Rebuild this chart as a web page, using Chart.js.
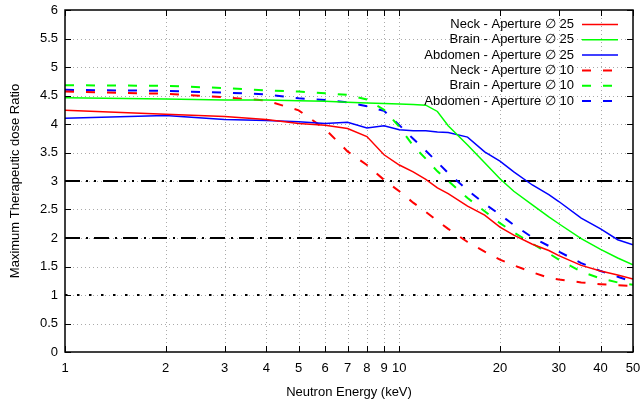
<!DOCTYPE html>
<html>
<head>
<meta charset="utf-8">
<script src="https://cdn.jsdelivr.net/npm/chart.js@4/dist/chart.umd.min.js"></script>
<style>
  html, body { margin: 0; padding: 0; background: #fff; }
  #wrap { width: 643px; height: 404px; }
</style>
</head>
<body>
<div id="wrap"><canvas id="chart" width="643" height="404"></canvas></div>
<script>
// エネルギー (keV) と各シリーズの値
const energy = [1, 2, 3, 4, 5, 6, 7, 8, 9, 10, 11, 12, 13, 14, 16, 18, 20, 22, 25, 28, 30, 35, 40, 45, 50];

const neck25    = [4.24, 4.17, 4.13, 4.08, 4.01, 3.98, 3.92, 3.78, 3.46, 3.28, 3.16, 3.03, 2.88, 2.78, 2.56, 2.40, 2.19, 2.05, 1.89, 1.78, 1.69, 1.52, 1.42, 1.35, 1.28];
const brain25   = [4.46, 4.44, 4.42, 4.42, 4.41, 4.40, 4.38, 4.37, 4.36, 4.35, 4.34, 4.33, 4.22, 3.97, 3.63, 3.32, 3.04, 2.82, 2.58, 2.37, 2.25, 1.99, 1.80, 1.65, 1.53];
const abdomen25 = [4.10, 4.15, 4.08, 4.06, 4.04, 4.01, 4.03, 3.93, 3.97, 3.90, 3.88, 3.88, 3.86, 3.85, 3.77, 3.51, 3.35, 3.16, 2.93, 2.76, 2.64, 2.35, 2.16, 1.97, 1.88];
const neck10    = [4.57, 4.53, 4.47, 4.41, 4.24, 3.91, 3.52, 3.28, 3.02, 2.82, 2.62, 2.46, 2.30, 2.16, 1.93, 1.76, 1.62, 1.52, 1.40, 1.30, 1.27, 1.22, 1.19, 1.17, 1.16];
const brain10   = [4.68, 4.67, 4.63, 4.59, 4.57, 4.54, 4.51, 4.43, 4.25, 3.95, 3.62, 3.39, 3.17, 3.00, 2.70, 2.47, 2.26, 2.10, 1.90, 1.73, 1.62, 1.41, 1.29, 1.22, 1.18];
const abdomen10 = [4.60, 4.58, 4.55, 4.52, 4.45, 4.42, 4.38, 4.31, 4.23, 3.98, 3.74, 3.53, 3.33, 3.14, 2.84, 2.60, 2.41, 2.23, 2.01, 1.86, 1.76, 1.56, 1.42, 1.32, 1.23];

// 基準線 (y = 3, 2, 1)
const refLevels = [3, 2, 1];
const refRange = [1, 50];

const xTicks = [1, 2, 3, 4, 5, 6, 7, 8, 9, 10, 20, 30, 40, 50];
const yTicks = [0, 0.5, 1, 1.5, 2, 2.5, 3, 3.5, 4, 4.5, 5, 5.5, 6];

const FONT = '"Liberation Sans", Arial, sans-serif';
const FSIZE = 13;
const DASH = [9, 12];

function toPoints(ys) {
    return energy.map((e, i) => ({ x: e, y: ys[i] }));
}

function series(label, ys, color, dashed) {
    return {
        label: label,
        data: toPoints(ys),
        borderColor: color,
        borderWidth: dashed ? 2 : 1.5,
        borderDash: dashed ? DASH : [],
        pointRadius: 0,
        tension: 0,
        fill: false
    };
}

const refDash = [[15, 6, 2, 6, 2, 7], [15, 6, 2, 6], [2.5, 9.5]];
const refSets = refLevels.map((lv, i) => ({
    label: 'ref' + lv,
    isRef: true,
    data: refRange.map(x => ({ x: x, y: lv })),
    borderColor: '#000',
    borderWidth: 2,
    borderDash: refDash[i],
    pointRadius: 0,
    fill: false
}));

// スケールの余白をなくしてプロット領域を固定する
function noPad(s) {
    s.paddingLeft = 0;
    s.paddingRight = 0;
    s.paddingTop = 0;
    s.paddingBottom = 0;
}

// グリッド・目盛り・枠・凡例を描くプラグイン
const frame = {
    id: 'frame',
    beforeDatasetsDraw(chart) {
        const { ctx, chartArea: a, scales: { x, y } } = chart;
        ctx.save();
        ctx.strokeStyle = '#aaaaaa';
        ctx.lineWidth = 1;
        ctx.setLineDash([1, 3]);
        xTicks.forEach(v => {
            if (v === 1 || v === 50) return;
            const px = Math.round(x.getPixelForValue(v)) + 0.5;
            ctx.beginPath(); ctx.moveTo(px, a.top); ctx.lineTo(px, a.bottom); ctx.stroke();
        });
        yTicks.forEach(v => {
            if (v === 0 || v === 6) return;
            const py = Math.round(y.getPixelForValue(v)) + 0.5;
            ctx.beginPath(); ctx.moveTo(a.left, py); ctx.lineTo(a.right, py); ctx.stroke();
        });
        ctx.restore();
    },
    afterDatasetsDraw(chart) {
        const { ctx, chartArea: a, scales: { x, y } } = chart;
        ctx.save();
        ctx.strokeStyle = '#000';
        ctx.lineWidth = 1;
        ctx.setLineDash([]);
        const t = 6;
        xTicks.forEach(v => {
            const px = Math.round(x.getPixelForValue(v)) + 0.5;
            ctx.beginPath();
            ctx.moveTo(px, a.bottom); ctx.lineTo(px, a.bottom - t);
            ctx.moveTo(px, a.top); ctx.lineTo(px, a.top + t);
            ctx.stroke();
        });
        yTicks.forEach(v => {
            const py = Math.round(y.getPixelForValue(v)) + 0.5;
            ctx.beginPath();
            ctx.moveTo(a.left, py); ctx.lineTo(a.left + t, py);
            ctx.moveTo(a.right, py); ctx.lineTo(a.right - t, py);
            ctx.stroke();
        });
        ctx.lineWidth = 1.5;
        ctx.strokeRect(a.left, a.top, a.right - a.left, a.bottom - a.top);

        // 凡例
        ctx.font = FSIZE + 'px ' + FONT;
        ctx.textAlign = 'right';
        ctx.textBaseline = 'middle';
        let row = 0;
        chart.data.datasets.forEach(ds => {
            if (ds.isRef) return;
            const ly = 24.5 + row * 15.3;
            ctx.fillStyle = '#000';
            ctx.fillText(ds.label, 574, ly);
            ctx.strokeStyle = ds.borderColor;
            ctx.lineWidth = ds.borderWidth;
            ctx.setLineDash(ds.borderDash);
            ctx.beginPath(); ctx.moveTo(582, ly); ctx.lineTo(618, ly); ctx.stroke();
            row++;
        });
        ctx.restore();
    }
};

new Chart(document.getElementById('chart').getContext('2d'), {
    type: 'line',
    data: {
        datasets: [
            series('Neck - Aperture \u2205 25', neck25, '#ff0000', false),
            series('Brain - Aperture \u2205 25', brain25, '#00ff00', false),
            series('Abdomen - Aperture \u2205 25', abdomen25, '#0000ff', false),
            series('Neck - Aperture \u2205 10', neck10, '#ff0000', true),
            series('Brain - Aperture \u2205 10', brain10, '#00ff00', true),
            series('Abdomen - Aperture \u2205 10', abdomen10, '#0000ff', true)
        ].concat(refSets)
    },
    options: {
        responsive: false,
        animation: false,
        devicePixelRatio: 1,
        layout: { padding: { left: 0, right: 10, top: 10, bottom: 0 } },
        plugins: {
            legend: { display: false },
            tooltip: { enabled: false }
        },
        scales: {
            x: {
                type: 'logarithmic',
                min: 1,
                max: 50,
                grid: { display: false, drawTicks: false },
                border: { display: false },
                afterBuildTicks: s => { s.ticks = xTicks.map(v => ({ value: v })); },
                afterFit: s => { s.height = 52; noPad(s); },
                ticks: {
                    autoSkip: false,
                    maxRotation: 0,
                    padding: 9,
                    color: '#000',
                    font: { family: FONT, size: FSIZE },
                    callback: v => String(v)
                },
                title: {
                    display: true,
                    text: 'Neutron Energy (keV)',
                    color: '#000',
                    font: { family: FONT, size: FSIZE },
                    padding: { top: 4, bottom: 4 }
                }
            },
            y: {
                type: 'linear',
                min: 0,
                max: 6,
                grid: { display: false, drawTicks: false },
                border: { display: false },
                afterBuildTicks: s => { s.ticks = yTicks.map(v => ({ value: v })); },
                afterFit: s => { s.width = 65; noPad(s); },
                ticks: {
                    padding: 7,
                    color: '#000',
                    font: { family: FONT, size: FSIZE },
                    callback: v => String(v)
                },
                title: {
                    display: true,
                    text: 'Maximum Therapeutic dose Ratio',
                    color: '#000',
                    font: { family: FONT, size: FSIZE },
                    padding: { top: 8, bottom: 0 }
                }
            }
        }
    },
    plugins: [frame]
});
</script>
</body>
</html>
